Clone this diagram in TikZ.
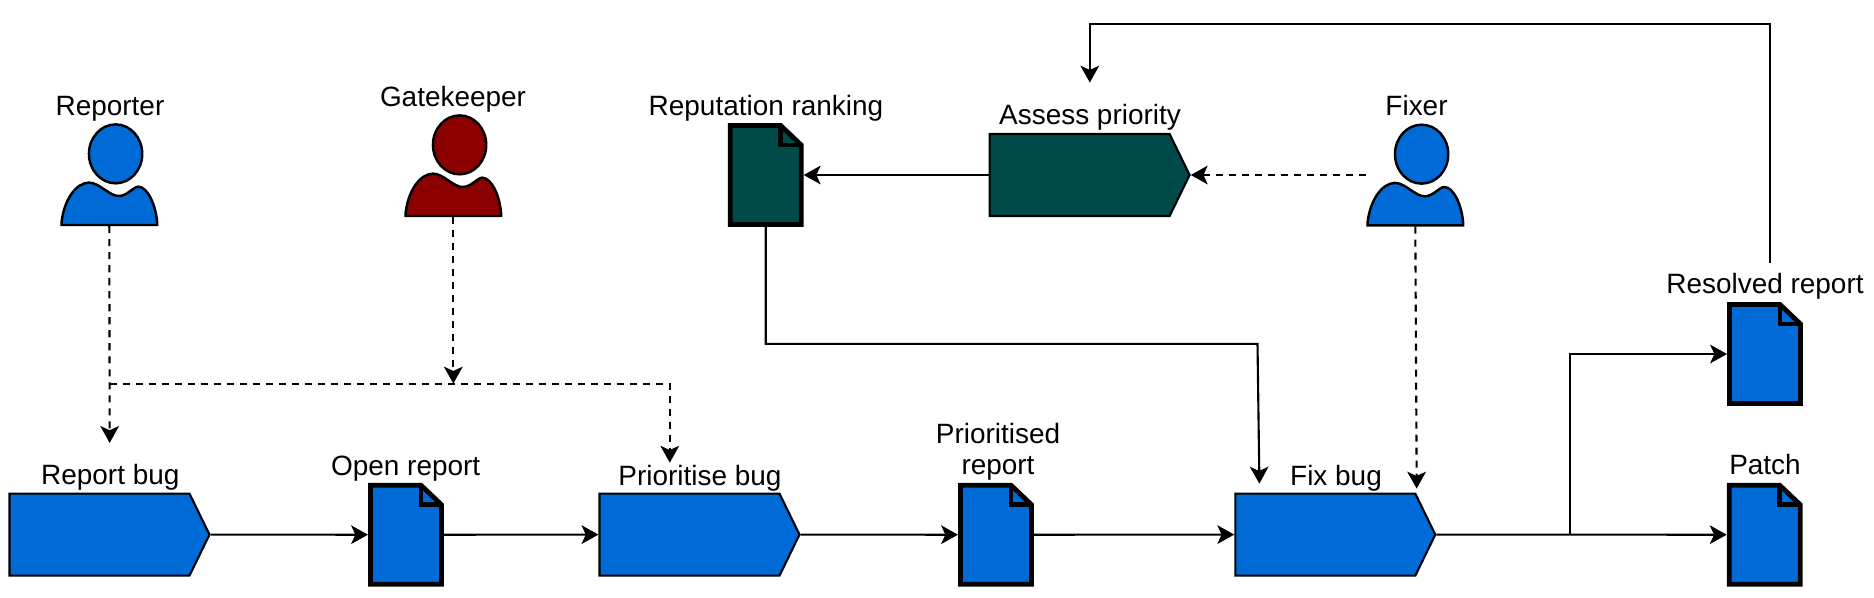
\documentclass[tikz,border=0pt]{standalone}
\usepackage{fontspec}
\setmainfont{Liberation Sans}
\usetikzlibrary{arrows.meta,shapes.symbols}
\definecolor{flowblue}{HTML}{006BD7}
\definecolor{flowteal}{HTML}{014A4A}
\definecolor{flowred}{HTML}{8B0000}
\begin{document}
\begin{tikzpicture}[
        >={Stealth[length=4.8pt,width=5.3pt,inset=1.2pt]},
        flow/.style={->,line width=0.6pt},
        dashflow/.style={->,line width=0.6pt,dash pattern=on 2pt off 1.7pt},
        tag/.style={anchor=base,inner sep=0pt,align=center,font=\fontsize{7.95}{8.8}\selectfont},
        process/.style={signal,signal to=east,signal pointer angle=128,draw,line width=0.6pt,fill=#1,
            inner sep=0pt,minimum width=2cm,minimum height=0.82cm},
        report/.style={rectangle,inner sep=0pt,outer sep=0pt,minimum width=0.76cm,minimum height=1.04cm,
            path picture={
                \draw[fill=#1,line width=1.35pt,shift={(path picture bounding box.center)}]
                    (-0.355,-0.495) -- (0.355,-0.495) -- (0.355,0.30) -- (0.15,0.495) -- (-0.355,0.495) -- cycle;
                \draw[line width=1.35pt,shift={(path picture bounding box.center)}]
                    (0.15,0.495) |- (0.355,0.30);
            }},
        person/.style={rectangle,inner sep=0pt,outer sep=0pt,minimum width=0.98cm,minimum height=1.03cm,
            path picture={
                \draw[fill=#1,line width=0.7pt,shift={(path picture bounding box.center)}]
                    (0.063,0.2085) ellipse (0.2665 and 0.2945);
                \draw[fill=#1,line width=0.7pt,shift={(path picture bounding box.center)}]
                    (-0.48,-0.503) .. controls (-0.46,-0.25) and (-0.33,-0.08) .. (-0.204,-0.079)
                    .. controls (-0.10,-0.079) and (0,-0.213) .. (0.093,-0.213)
                    .. controls (0.18,-0.213) and (0.24,-0.12) .. (0.29,-0.12)
                    .. controls (0.38,-0.12) and (0.47,-0.30) .. (0.48,-0.503) -- cycle;
            }}
    ]
        \useasboundingbox (0,0) rectangle (18.74,-5.97);

        % People
        \node[person=flowblue] (reporter) at (1.093,-1.747) {};
        \node[person=flowred] (gatekeeper) at (4.533,-1.657) {};
        \node[person=flowblue] (fixer) at (14.153,-1.75) {};

        % Activities
        \node[process=flowblue] (reportbug) at (0.995,-5.346) {};
        \node[process=flowblue] (prioritisebug) at (6.895,-5.346) {};
        \node[process=flowblue] (fixbug) at (13.253,-5.346) {};
        \node[process=flowteal] (assess) at (10.796,-1.75) {};

        % Documents
        \node[report=flowblue] (openreport) at (4.06,-5.347) {};
        \node[report=flowblue] (prioritised) at (9.96,-5.347) {};
        \node[report=flowblue] (patch) at (17.647,-5.347) {};
        \node[report=flowblue] (resolved) at (17.65,-3.54) {};
        \node[report=flowteal] (ranking) at (7.657,-1.75) {};

        % Labels
        \node[tag] (reportertag) at (1.10,-1.155) {Reporter};
        \node[tag] (gatekeepertag) at (4.53,-1.06) {Gatekeeper};
        \node[tag] (fixertag) at (14.165,-1.158) {Fixer};
        \node[tag] (reportbugtag) at (1.103,-4.847) {Report bug};
        \node[tag] (prioritisebugtag) at (7.00,-4.855) {Prioritise bug};
        \node[tag] (fixbugtag) at (13.36,-4.855) {Fix bug};
        \node[tag] (assesstag) at (10.90,-1.245) {Assess priority};
        \node[tag] (openreporttag) at (4.057,-4.75) {Open report};
        \node[tag] (prioritisedtag) at (9.98,-4.74) {Prioritised\\report};
        \node[tag] (patchtag) at (17.65,-4.745) {Patch};
        \node[tag] (resolvedtag) at (17.65,-2.932) {Resolved report};
        \node[tag] (rankingtag) at (7.66,-1.15) {Reputation ranking};

        % Free ends and bends
        \coordinate (reportin) at (1.097,-4.429);
        \coordinate (gatein) at (4.533,-3.836);
        \coordinate (split) at (1.097,-3.836);
        \coordinate (prioritisein) at (6.698,-4.627);
        \coordinate (fixin) at (12.594,-4.836);
        \coordinate (rankbend) at (12.575,-3.439);
        \coordinate (fixerin) at (14.167,-4.886);
        \coordinate (assessin) at (10.898,-0.826);
        \coordinate (topbend) at (10.898,-0.236);
        \coordinate (resolvedout) at (17.697,-2.628);
        \coordinate (branch) at (15.696,-5.347);

        % Main flow
        \draw[flow] (reportbug.east) -- (openreport.west);
        \draw[flow] (openreport.east) -- (prioritisebug.west);
        \draw[flow] (prioritisebug.east) -- (prioritised.west);
        \draw[flow] (prioritised.east) -- (fixbug.west);
        \draw[flow] (fixbug.east) -- (patch.west);
        \draw[flow] (branch) |- (resolved.west);

        % Feedback
        \draw[flow] (resolvedout) |- (topbend) -- (assessin);
        \draw[flow] (assess.west) -- (ranking.east);
        \draw[flow] (ranking.south) |- (rankbend) -- (fixin);

        % Participation
        \draw[dashflow] (reporter.south) -- (reportin);
        \draw[dashflow] (gatekeeper.south) -- (gatein);
        \draw[dashflow] (split) -| (prioritisein);
        \draw[dashflow] (fixer.west) -- (assess.east);
        \draw[dashflow] (fixer.south) -- (fixerin);

    \end{tikzpicture}
\end{document}
